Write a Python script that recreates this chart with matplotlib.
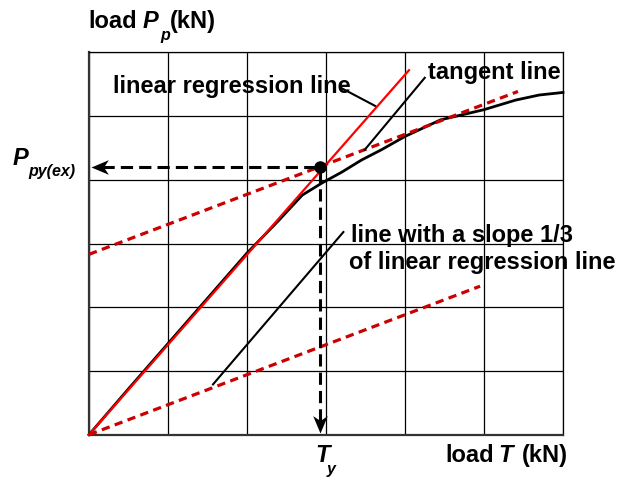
import numpy as np
import matplotlib.pyplot as plt
from matplotlib.path import Path

plt.rcParams['font.family'] = ['Liberation Sans', 'DejaVu Sans']
plt.rcParams['font.weight'] = 'bold'

# ---- measured load curve (grid units) ----
T_load = [0, 0.5, 1.0, 1.5, 2.0, 2.4, 2.7, 2.95, 3.2, 3.45, 3.7, 4.0, 4.45, 5.0, 5.4, 5.7, 6.0]
P_load = [0, 0.72, 1.43, 2.14, 2.85, 3.36, 3.76, 3.95, 4.12, 4.31, 4.47, 4.68, 4.94, 5.10, 5.25, 5.33, 5.37]

# ---- regression / tangent lines ----
reg_slope = 1.412
reg_T_end = 4.05
tan_slope = reg_slope / 3
tan_intercept = 2.83
tan_T_end = 5.43
third_T_end = 4.95

# yield point
T_y = 2.92
P_py = 4.20

# leader lines for the labels
lead_reg = ([3.20, 3.62], [5.435, 5.16])
lead_tan = ([4.25, 3.49], [5.60, 4.47])
lead_third = ([1.57, 3.22], [0.79, 3.18])

W, H = 619, 480
fig = plt.figure(figsize=(W / 100, H / 100), dpi=100)
ax = fig.add_axes([89 / W, 1 - 434.7 / H, (563 - 89) / W, (434.7 - 52.3) / H])
ax.set_xlim(0, 6)
ax.set_ylim(0, 6)
ax.set_xticks(range(7))
ax.set_yticks(range(7))
ax.tick_params(length=0, labelbottom=False, labelleft=False)
ax.grid(True, color='black', lw=0.9)
for side in ['top', 'right']:
    ax.spines[side].set_linewidth(0.9)
for side in ['left', 'bottom']:
    ax.spines[side].set_linewidth(1.6)
    ax.spines[side].set_color('#333333')

# load curve
ax.plot(T_load, P_load, color='black', lw=2.0, zorder=3, clip_on=False)

# linear regression line
reg_T = np.array([0, reg_T_end])
ax.plot(reg_T, reg_slope * reg_T, color='#ff0000', lw=1.6, zorder=4, clip_on=False)

# slope 1/3 lines (through origin and tangent)
red_dash = dict(color='#cc0000', lw=2.3, ls=(0, (2.6, 1.7)), zorder=4, clip_on=False)
t3 = np.array([0, third_T_end])
ax.plot(t3, tan_slope * t3, **red_dash)
tt = np.array([0, tan_T_end])
ax.plot(tt, tan_intercept + tan_slope * tt, **red_dash)

# dashed arrows from the yield point
blk_dash = dict(color='black', lw=2.2, ls=(0, (4, 2)), zorder=5, clip_on=False)
ax.plot([0.17, T_y], [P_py, P_py], **blk_dash)
ax.plot([T_y, T_y], [0.22, P_py], **blk_dash)

head_left = Path([(0, 0), (1, 0.42), (0.72, 0), (1, -0.42), (0, 0)],
                 [Path.MOVETO, Path.LINETO, Path.LINETO, Path.LINETO, Path.CLOSEPOLY])
head_down = Path([(0, 0), (0.42, 1), (0, 0.72), (-0.42, 1), (0, 0)],
                 [Path.MOVETO, Path.LINETO, Path.LINETO, Path.LINETO, Path.CLOSEPOLY])
ax.plot([0.02], [P_py], marker=head_left, ms=25, color='black', mew=0, zorder=6, clip_on=False)
ax.plot([T_y], [0.03], marker=head_down, ms=25, color='black', mew=0, zorder=6, clip_on=False)

ax.plot([T_y], [P_py], 'o', color='black', ms=8, zorder=7)

# leader lines
for lx, ly in [lead_reg, lead_tan, lead_third]:
    ax.plot(lx, ly, color='black', lw=1.5, zorder=5)


def ftext(x, y, s, size=17, style='normal'):
    fig.text(x / W, 1 - y / H, s, fontsize=size, fontweight='bold',
             style=style, ha='left', va='baseline')


ftext(113, 93, 'linear regression line')
ftext(428, 79, 'tangent line')
ftext(351, 242, 'line with a slope 1/3')
ftext(349, 269, 'of linear regression line')

# axis titles
ftext(88, 28, 'load')
ftext(143, 28, 'P', style='italic')
ftext(160, 40, 'p', size=11.5, style='italic')
ftext(170, 28, '(kN)')

ftext(445, 462, 'load')
ftext(498, 462, 'T', style='italic')
ftext(522, 462, '(kN)')

ftext(13, 165, 'P', style='italic')
ftext(28, 176, 'py(ex)', size=11.5, style='italic')
ftext(315, 462, 'T', style='italic')
ftext(327, 474, 'y', size=11.5, style='italic')

plt.savefig('out.png', dpi=100)
